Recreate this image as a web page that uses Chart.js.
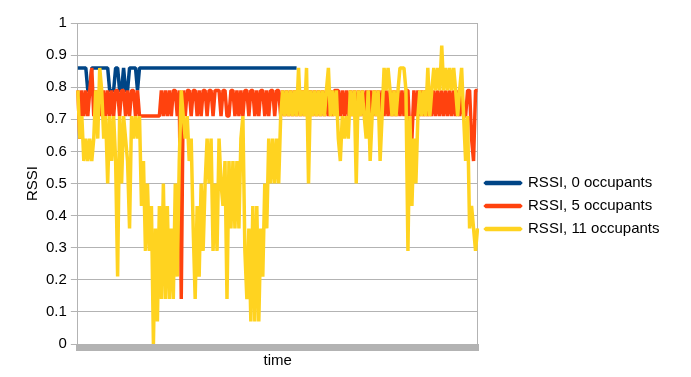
<!DOCTYPE html>
<html>
<head>
<meta charset="utf-8">
<script src="https://cdn.jsdelivr.net/npm/chart.js@4.4.1/dist/chart.umd.min.js"></script>
<style>
  html, body { margin: 0; padding: 0; background: #fff; }
  canvas { display: block; }
</style>
</head>
<body>
<canvas id="chart" width="691" height="377"></canvas>
<script>
// RSSI samples (one value every ~2px of the plot)
const rssi0 = [
    0.86, 0.86, 0.86, 0.86, 0.86, 0.79, 0.79, 0.86, 0.86, 0.86,
    0.86, 0.86, 0.86, 0.86, 0.86, 0.86, 0.79, 0.79, 0.79, 0.86,
    0.86, 0.79, 0.79, 0.86, 0.79, 0.79, 0.86, 0.86, 0.86, 0.86,
    0.79, 0.86, 0.86, 0.86, 0.86, 0.86, 0.86, 0.86, 0.86, 0.86,
    0.86, 0.86, 0.86, 0.86, 0.86, 0.86, 0.86, 0.86, 0.86, 0.86,
    0.86, 0.86, 0.86, 0.86, 0.86, 0.86, 0.86, 0.86, 0.86, 0.86,
    0.86, 0.86, 0.86, 0.86, 0.86, 0.86, 0.86, 0.86, 0.86, 0.86,
    0.86, 0.86, 0.86, 0.86, 0.86, 0.86, 0.86, 0.86, 0.86, 0.86,
    0.86, 0.86, 0.86, 0.86, 0.86, 0.86, 0.86, 0.86, 0.86, 0.86,
    0.86, 0.86, 0.86, 0.86, 0.86, 0.86, 0.86, 0.86, 0.86, 0.86,
    0.86, 0.86, 0.86, 0.86, 0.86, 0.86, 0.86, 0.86, 0.86, 0.86,
    0.86
];

const rssi5 = [
    0.79, 0.64, 0.79, 0.71, 0.79, 0.71, 0.79, 0.86, 0.71, 0.79,
    0.71, 0.79, 0.71, 0.79, 0.71, 0.79, 0.71, 0.79, 0.71, 0.79,
    0.79, 0.71, 0.79, 0.79, 0.71, 0.79, 0.71, 0.79, 0.79, 0.71,
    0.79, 0.71, 0.71, 0.71, 0.71, 0.71, 0.71, 0.71, 0.71, 0.71,
    0.71, 0.71, 0.79, 0.71, 0.79, 0.71, 0.79, 0.71, 0.79, 0.79,
    0.71, 0.79, 0.14, 0.79, 0.71, 0.79, 0.79, 0.71, 0.79, 0.79,
    0.71, 0.79, 0.71, 0.79, 0.79, 0.71, 0.79, 0.79, 0.71, 0.79,
    0.79, 0.79, 0.71, 0.79, 0.79, 0.71, 0.71, 0.79, 0.79, 0.71,
    0.79, 0.71, 0.79, 0.71, 0.79, 0.79, 0.71, 0.79, 0.79, 0.71,
    0.79, 0.71, 0.79, 0.79, 0.71, 0.79, 0.71, 0.79, 0.79, 0.71,
    0.79, 0.79, 0.71, 0.79, 0.71, 0.79, 0.71, 0.79, 0.71, 0.79,
    0.71, 0.79, 0.71, 0.79, 0.71, 0.79, 0.71, 0.79, 0.71, 0.79,
    0.71, 0.79, 0.71, 0.79, 0.71, 0.79, 0.71, 0.79, 0.71, 0.79,
    0.79, 0.79, 0.71, 0.79, 0.71, 0.79, 0.71, 0.79, 0.71, 0.79,
    0.71, 0.79, 0.71, 0.79, 0.71, 0.79, 0.71, 0.79, 0.71, 0.79,
    0.71, 0.79, 0.71, 0.79, 0.71, 0.79, 0.71, 0.79, 0.71, 0.79,
    0.71, 0.79, 0.71, 0.79, 0.71, 0.79, 0.79, 0.64, 0.64, 0.79,
    0.71, 0.79, 0.71, 0.79, 0.71, 0.79, 0.71, 0.79, 0.71, 0.79,
    0.71, 0.79, 0.71, 0.79, 0.71, 0.79, 0.71, 0.79, 0.71, 0.79,
    0.71, 0.79, 0.71, 0.79, 0.71, 0.71, 0.79, 0.79, 0.64, 0.57,
    0.79, 0.79
];

const rssi11 = [
    0.79, 0.64, 0.71, 0.57, 0.64, 0.57, 0.64, 0.57, 0.64, 0.79,
    0.64, 0.86, 0.79, 0.64, 0.71, 0.5, 0.71, 0.57, 0.71, 0.57,
    0.21, 0.71, 0.5, 0.71, 0.64, 0.57, 0.36, 0.71, 0.64, 0.71,
    0.64, 0.71, 0.43, 0.57, 0.29, 0.5, 0.29, 0.43, 0, 0.36,
    0.07, 0.43, 0.14, 0.5, 0.14, 0.43, 0.14, 0.36, 0.14, 0.5,
    0.21, 0.57, 0.79, 0.71, 0.64, 0.71, 0.57, 0.64, 0.36, 0.14,
    0.43, 0.21, 0.5, 0.29, 0.5, 0.64, 0.5, 0.64, 0.29, 0.5,
    0.29, 0.64, 0.5, 0.43, 0.57, 0.14, 0.57, 0.36, 0.57, 0.36,
    0.57, 0.36, 0.64, 0.71, 0.29, 0.14, 0.36, 0.07, 0.43, 0.07,
    0.43, 0.07, 0.36, 0.21, 0.5, 0.36, 0.64, 0.5, 0.64, 0.5,
    0.64, 0.5, 0.71, 0.79, 0.71, 0.79, 0.71, 0.79, 0.71, 0.79,
    0.71, 0.86, 0.71, 0.79, 0.71, 0.86, 0.5, 0.79, 0.71, 0.79,
    0.71, 0.79, 0.71, 0.79, 0.71, 0.79, 0.86, 0.71, 0.79, 0.71,
    0.79, 0.64, 0.57, 0.71, 0.64, 0.71, 0.64, 0.79, 0.71, 0.79,
    0.5, 0.79, 0.71, 0.79, 0.71, 0.64, 0.79, 0.57, 0.71, 0.79,
    0.71, 0.79, 0.57, 0.71, 0.86, 0.79, 0.86, 0.79, 0.71, 0.79,
    0.71, 0.79, 0.86, 0.86, 0.86, 0.79, 0.29, 0.71, 0.43, 0.64,
    0.5, 0.71, 0.79, 0.71, 0.79, 0.71, 0.86, 0.71, 0.79, 0.86,
    0.79, 0.86, 0.79, 0.93, 0.79, 0.86, 0.79, 0.86, 0.79, 0.86,
    0.79, 0.71, 0.79, 0.86, 0.71, 0.57, 0.71, 0.36, 0.43, 0.36,
    0.29, 0.36
];

const seriesNames = ["RSSI, 0 occupants", "RSSI, 5 occupants", "RSSI, 11 occupants"];
const seriesColors = ["#004586", "#ff420e", "#ffd320"];
const yTickLabels = ["0", "0.1", "0.2", "0.3", "0.4", "0.5", "0.6", "0.7", "0.8", "0.9", "1"];
const timeLabels = rssi11.map((v, i) => i + 1);

const gridColor = "#b3b3b3";

Chart.defaults.font.family = "'Liberation Sans', Arial, sans-serif";
Chart.defaults.font.size = 15;
Chart.defaults.color = "#000";

function makeSeries(data, i, order) {
    return {
        label: seriesNames[i],
        data,
        borderColor: seriesColors[i],
        backgroundColor: seriesColors[i],
        borderWidth: 3.5,
        borderJoinStyle: "bevel",
        pointRadius: 0,
        tension: 0,
        order
    };
}

new Chart("chart", {
    type: "line",
    data: {
        labels: timeLabels,
        datasets: [
            makeSeries(rssi0, 0, 2),
            makeSeries(rssi5, 1, 1),
            makeSeries(rssi11, 2, 0)
        ]
    },
    options: {
        responsive: false,
        animation: false,
        devicePixelRatio: 1,
        layout: {padding: {top: 23, right: 21.5, bottom: 0, left: 9}},
        scales: {
            x: {
                ticks: {display: false, autoSkip: false},
                grid: {drawOnChartArea: false, tickLength: 7, tickWidth: 3, tickColor: gridColor},
                border: {display: false},
                title: {display: true, text: "time", padding: {top: 1, bottom: 7}}
            },
            y: {
                min: 0,
                max: 1,
                ticks: {stepSize: 0.1, padding: 4, callback: (v, i) => yTickLabels[i]},
                grid: {color: gridColor, tickLength: 7},
                border: {color: gridColor},
                title: {display: true, text: "RSSI", padding: {top: 15, bottom: 0}}
            },
            yRight: {
                position: "right",
                min: 0,
                max: 1,
                ticks: {display: false},
                grid: {drawOnChartArea: false, drawTicks: false},
                border: {color: gridColor}
            }
        },
        plugins: {
            tooltip: {enabled: false},
            legend: {
                position: "right",
                align: "center",
                maxWidth: 240,
                title: {display: true, text: "", font: {size: 10}, padding: 0},
                labels: {
                    boxWidth: 35,
                    boxHeight: 1,
                    padding: 8,
                    sort: (a, b) => a.datasetIndex - b.datasetIndex
                }
            }
        }
    }
});
</script>
</body>
</html>
